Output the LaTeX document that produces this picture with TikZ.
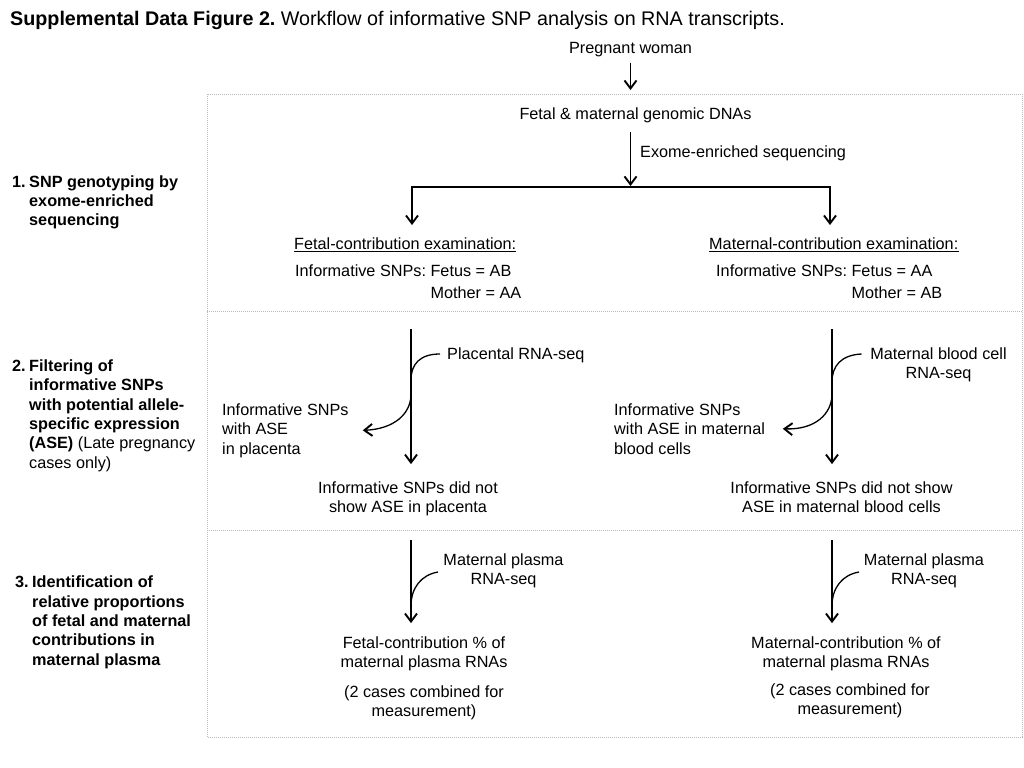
\documentclass[tikz,border=0pt]{standalone}
\usepackage{fontspec}
\setmainfont{Liberation Sans}
\usetikzlibrary{arrows.meta}
\frenchspacing
\begin{document}
\begin{tikzpicture}[x=1bp,y=-1bp,
  every node/.style={inner sep=0pt, font=\fontsize{16.3}{19.5}\selectfont},
  ct/.style={anchor=base, align=center},
  lt/.style={anchor=base west, align=left},
  lbl/.style={anchor=base west, align=left, font=\fontsize{16.3}{19.4}\selectfont\bfseries},
  frame/.style={draw=gray!55, line width=0.9bp, dash pattern=on 1bp off 1bp},
  arr/.style={-{Straight Barb[length=8bp,width=12bp,line width=1.9bp]}, line width=1.5bp},
  ln/.style={line width=1.5bp},
  crv/.style={line width=1.3bp},
  carr/.style={-{Straight Barb[length=8bp,width=12bp,line width=1.9bp]}, line width=1.3bp}]
\useasboundingbox (0,0) rectangle (1024,768);

% frame
\draw[frame] (207,94) rectangle (1022,737);
\draw[frame] (207,311.5) -- (1022,311.5);
\draw[frame] (207,530) -- (1022,530);

% title
\node[anchor=base west, font=\fontsize{19.8}{24}\selectfont] (title) at (10,25.5)
  {\textbf{Supplemental Data Figure 2.} Workflow of informative SNP analysis on RNA transcripts.};

% left labels (multi-line nodes: base = last line)
\node[lbl] (n1) at (12,187) {1.};
\node[lbl] (t1) at (29,225.8) {SNP genotyping by\\exome-enriched\\sequencing};
\node[lbl] (n2) at (12,371) {2.};
\node[lbl] (t2) at (29,468) {Filtering of\\informative SNPs\\with potential allele-\\specific expression\\(ASE) {\mdseries (Late pregnancy}\\{\mdseries cases only)}};
\node[lbl] (n3) at (15,587.5) {3.};
\node[lbl] (t3) at (32,665.1) {Identification of\\relative proportions\\of fetal and maternal\\contributions in\\maternal plasma};

% section 1
\node[ct] (pw) at (630.5,54) {Pregnant woman};
\node[ct] (dna) at (635.5,119) {Fetal \& maternal genomic DNAs};
\node[lt] (exo) at (640,157) {Exome-enriched sequencing};
\coordinate (split) at (630.5,187);
\coordinate (fl) at (412,187);
\coordinate (mr) at (830,187);
\draw[arr, shorten <=5bp, shorten >=17bp] (pw.south -| split) -- (dna.north -| split);
\draw[arr, shorten <=9.5bp, shorten >=1bp] (dna.south -| split) -- (split);
\draw[ln] (fl) -- (mr);

\node[lt] (fe) at (294,249) {Fetal-contribution examination:};
\node[lt] (fg) at (295,298) {Informative SNPs: Fetus = AB\\[2.5bp]\hphantom{Informative SNPs: }Mother = AA};
\node[lt] (me) at (709,249) {Maternal-contribution examination:};
\node[lt] (mg) at (716,298) {Informative SNPs: Fetus = AA\\[2.5bp]\hphantom{Informative SNPs: }Mother = AB};
\draw[line width=1.1bp] ([yshift=-2.5bp]fe.base west) -- ([yshift=-2.5bp]fe.base east);
\draw[line width=1.1bp] ([yshift=-2.5bp]me.base west) -- ([yshift=-2.5bp]me.base east);
\draw[arr, shorten >=12bp] ([yshift=0.75bp]fl) -- (fl |- fe.north);
\draw[arr, shorten >=12bp] ([yshift=0.75bp]mr) -- (mr |- me.north);

% section 2
\coordinate (s2l) at (411,329);
\coordinate (s2r) at (832,329);
\node[lt] (pr) at (447,359) {Placental RNA-seq};
\node[lt] (al) at (222,454) {Informative SNPs\\with ASE\\in placenta};
\node[ct] (nl) at (408,512.5) {Informative SNPs did not\\show ASE in placenta};
\draw[arr, shorten >=17bp] (s2l) -- (s2l |- nl.north);
\draw[carr] ([shift={(-7bp,5bp)}]pr.base west) .. controls (420,354) and (411,364) .. (411,380)
  -- (411,394) .. controls (411,414) and (394,429) .. ([xshift=14bp]al.east);

\node[ct] (br) at (938.5,378.5) {Maternal blood cell\\RNA-seq};
\node[lt] (ar) at (614,454) {Informative SNPs\\with ASE in maternal\\blood cells};
\node[ct] (nr) at (841.5,512.5) {Informative SNPs did not show\\ASE in maternal blood cells};
\draw[arr, shorten >=17bp] (s2r) -- (s2r |- nr.north);
\draw[carr] ([shift={(-8.6bp,24.5bp)}]br.base west) .. controls (841,355) and (832,366) .. (832,382)
  -- (832,394) .. controls (832,414) and (815,430) .. ([xshift=17.7bp]ar.east);

% section 3
\coordinate (s3l) at (411,540);
\coordinate (s3r) at (832,540);
\node[ct] (mp1) at (503.5,584.5) {Maternal plasma\\RNA-seq};
\node[ct] (fc) at (424,667.5) {Fetal-contribution \% of\\maternal plasma RNAs};
\node[ct] (fm) at (424,716.5) {(2 cases combined for\\measurement)};
\draw[arr, shorten >=13bp] (s3l) -- (s3l |- fc.north);
\draw[crv] ([shift={(-5.3bp,12.5bp)}]mp1.base west) .. controls (421,575) and (411,588) .. (411,606);

\node[ct] (mp2) at (924,584.5) {Maternal plasma\\RNA-seq};
\node[ct] (mc) at (846,667.5) {Maternal-contribution \% of\\maternal plasma RNAs};
\node[ct] (mm) at (850,714.5) {(2 cases combined for\\measurement)};
\draw[arr, shorten >=13bp] (s3r) -- (s3r |- mc.north);
\draw[crv] ([shift={(-4.8bp,12.5bp)}]mp2.base west) .. controls (842,575) and (832,588) .. (832,606);
\end{tikzpicture}
\end{document}
